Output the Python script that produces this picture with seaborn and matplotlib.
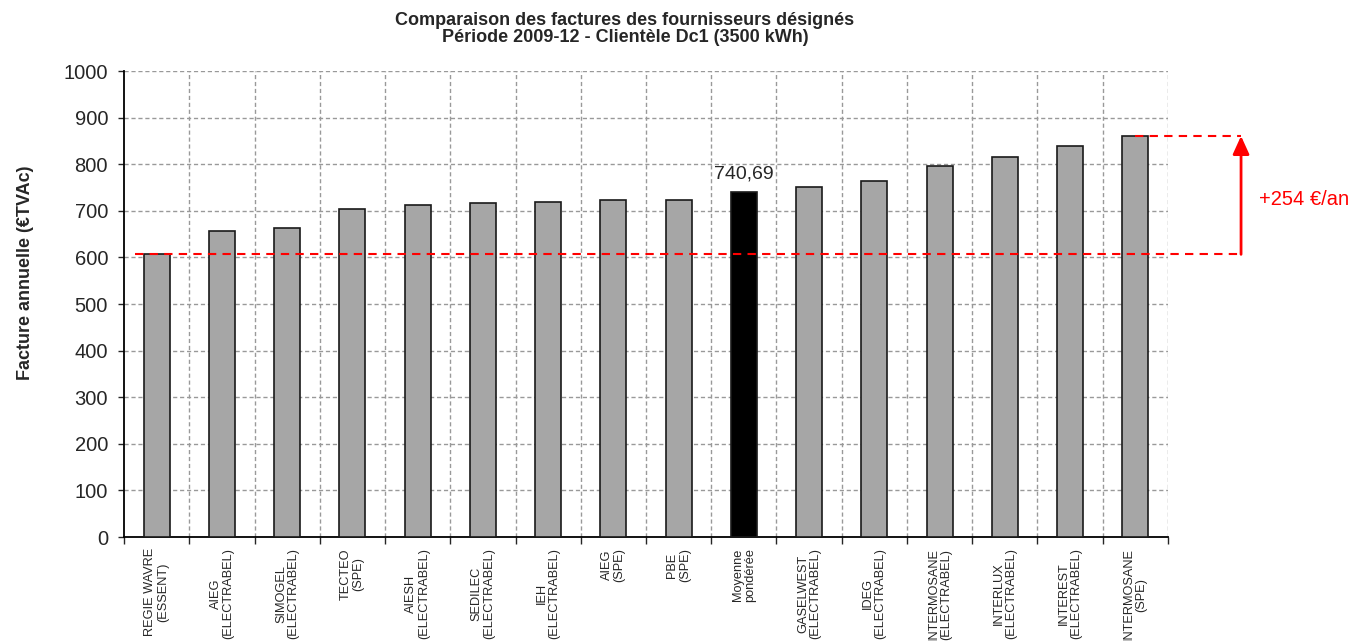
import numpy as np
import pandas as pd
import matplotlib
matplotlib.use("Agg")
import matplotlib.pyplot as plt
import seaborn as sns

# data
fournisseurs = [
    "REGIE WAVRE\n(ESSENT)", "AIEG\n(ELECTRABEL)", "SIMOGEL\n(ELECTRABEL)",
    "TECTEO\n(SPE)", "AIESH\n(ELECTRABEL)", "SEDILEC\n(ELECTRABEL)",
    "IEH\n(ELECTRABEL)", "AIEG\n(SPE)", "PBE\n(SPE)", "Moyenne\npondérée",
    "GASELWEST\n(ELECTRABEL)", "IDEG\n(ELECTRABEL)", "INTERMOSANE\n(ELECTRABEL)",
    "INTERLUX\n(ELECTRABEL)", "INTEREST\n(ELECTRABEL)", "INTERMOSANE\n(SPE)",
]
factures = [606.6, 657, 663, 703, 713, 716, 720, 723, 723, 740.69,
            752, 763, 796, 816, 839, 860.6]
moyenne_label = "Moyenne\npondérée"

sns.set_style("white")
plt.rcParams['font.family'] = ['Liberation Sans', 'DejaVu Sans']

df = pd.DataFrame({'fournisseur': fournisseurs, 'facture': factures})
palette = {f: ('#000000' if f == moyenne_label else '#A6A6A6') for f in fournisseurs}

fig = plt.figure(figsize=(13.57, 6.41), dpi=100)
ax = fig.add_axes([0.0914, 0.1622, 0.7693, 0.727])

sns.barplot(data=df, x='fournisseur', y='facture', hue='fournisseur',
            palette=palette, legend=False, width=0.4,
            edgecolor='#1a1a1a', linewidth=1.2, ax=ax, zorder=3)

n = len(fournisseurs)
ax.set_xlim(-0.5, n - 0.5)
ax.set_ylim(0, 1000)
ax.set_yticks(np.arange(0, 1001, 100))
ax.tick_params(axis='y', labelsize=14.5, direction='out', length=4, width=1,
               left=True, pad=7.5)

# category labels centred, ticks at the boundaries
ax.set_xticks(np.arange(n))
ax.set_xticklabels(fournisseurs, rotation=90, fontsize=9.2, ha='center',
                   va='top', multialignment='center', linespacing=1.05)
ax.tick_params(axis='x', which='major', length=0, pad=8)
ax.set_xticks(np.arange(-0.5, n, 1), minor=True)
ax.tick_params(axis='x', which='minor', direction='out', length=5, width=1, bottom=True)

for y in np.arange(100, 1001, 100):
    ax.axhline(y, color='#999999', lw=1, ls=(0, (3, 2)), zorder=1)
for x in np.arange(0.5, n, 1):
    ax.axvline(x, color='#999999', lw=1, ls=(0, (3, 2)), zorder=1)

for s in ['top', 'right']:
    ax.spines[s].set_visible(False)
for s in ['left', 'bottom']:
    ax.spines[s].set_color('black')
    ax.spines[s].set_linewidth(1.3)

ax.set_xlabel('')
ax.set_ylabel('Facture annuelle (€TVAc)', fontsize=13, fontweight='bold')
ax.yaxis.set_label_coords(-0.086, 0.567)

# value label of the weighted average
i_moy = fournisseurs.index(moyenne_label)
ax.annotate(f"{factures[i_moy]:.2f}".replace('.', ','), (i_moy, factures[i_moy]),
            xytext=(0, 7), textcoords='offset points', ha='center', va='bottom',
            fontsize=14, zorder=5)

# spread min / max
vmin, vmax = min(factures), max(factures)
ax.plot([-0.33, 16.62], [vmin, vmin], color='red', lw=1.5, ls=(0, (4, 3)),
        clip_on=False, zorder=4)
ax.plot([15.0, 16.62], [vmax, vmax], color='red', lw=1.5, ls=(0, (4, 3)),
        clip_on=False, zorder=4)
ax.annotate('', xy=(16.62, vmax), xytext=(16.62, vmin),
            arrowprops=dict(arrowstyle='-|>,head_length=1.1,head_width=0.5',
                            color='red', lw=2, shrinkA=0, shrinkB=0),
            annotation_clip=False)
ax.text(16.9, (vmin + vmax) / 2 - 10, f"+{round(vmax - vmin)} €/an", color='red',
        fontsize=14.5, ha='left', va='center', clip_on=False)

fig.text(0.4606, 0.982, "Comparaison des factures des fournisseurs désignés\n"
         "Période 2009-12 - Clientèle Dc1 (3500 kWh)", ha='center', va='top',
         fontsize=13, fontweight='bold', linespacing=1.05)

fig.savefig('out.png', dpi=100)
